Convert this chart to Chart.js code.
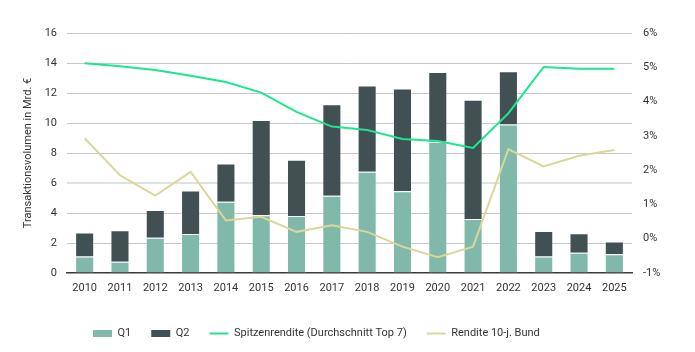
<!DOCTYPE html>
<html>
<head>
<meta charset="utf-8">
<script src="https://cdn.jsdelivr.net/npm/chart.js@4"></script>
<style>
  html, body { margin: 0; padding: 0; background: #fff; }
  #wrap { width: 695px; height: 352px; }
</style>
</head>
<body>
<div id="wrap"><canvas id="chart1"></canvas></div>
<script>
// data
const years = ["2010","2011","2012","2013","2014","2015","2016","2017","2018","2019","2020","2021","2022","2023","2024","2025"];
const q1 = [1.1, 0.75, 2.35, 2.6, 4.75, 3.85, 3.8, 5.15, 6.75, 5.45, 8.75, 3.6, 9.9, 1.1, 1.35, 1.25];
const q2 = [1.6, 2.1, 1.85, 2.9, 2.55, 6.35, 3.75, 6.1, 5.75, 6.85, 4.65, 7.95, 3.55, 1.7, 1.3, 0.85];
const spitzenrendite = [5.12, 5.03, 4.92, 4.75, 4.57, 4.26, 3.70, 3.27, 3.17, 2.91, 2.85, 2.65, 3.66, 5.01, 4.96, 4.96];
const bundRendite = [2.93, 1.85, 1.26, 1.95, 0.53, 0.64, 0.20, 0.39, 0.20, -0.23, -0.54, -0.23, 2.61, 2.11, 2.42, 2.59];
const legendOrder = ["Q1", "Q2", "Spitzenrendite (Durchschnitt Top 7)", "Rendite 10-j. Bund"];

const colQ1 = "#80b9aa";
const colQ2 = "#405053";
const colGreen = "#1ee68c";
const colYellow = "#dbd69c";

Chart.defaults.font.family = "Roboto, 'Liberation Sans', sans-serif";
Chart.defaults.font.size = 11;
Chart.defaults.color = "#333";

// move the legend row to where it sits in the reference
const legendShift = {
    id: "legendShift",
    afterLayout(chart) {
        chart.legend.left = 73;
    }
};

new Chart(document.getElementById("chart1").getContext("2d"), {
    type: "bar",
    data: {
        labels: years,
        datasets: [
            {
                type: "line",
                label: legendOrder[2],
                data: spitzenrendite,
                yAxisID: "y2",
                borderColor: colGreen,
                backgroundColor: colGreen,
                borderWidth: 2,
                pointRadius: 0,
                tension: 0,
                order: 0
            },
            {
                type: "line",
                label: legendOrder[3],
                data: bundRendite,
                yAxisID: "y2",
                borderColor: colYellow,
                backgroundColor: colYellow,
                borderWidth: 2,
                pointRadius: 0,
                tension: 0,
                order: 1
            },
            {
                label: legendOrder[0],
                data: q1,
                backgroundColor: colQ1,
                borderColor: "rgba(255,255,255,0.35)",
                borderWidth: 1,
                stack: "s",
                order: 2
            },
            {
                label: legendOrder[1],
                data: q2,
                backgroundColor: colQ2,
                borderColor: "rgba(255,255,255,0.35)",
                borderWidth: 1,
                stack: "s",
                order: 2
            }
        ]
    },
    options: {
        responsive: true,
        maintainAspectRatio: false,
        animation: false,
        layout: { padding: { top: 33, bottom: 3, left: 0, right: 0 } },
        datasets: {
            bar: { barPercentage: 0.54, categoryPercentage: 1 }
        },
        plugins: {
            tooltip: { enabled: false },
            legend: {
                position: "bottom",
                align: "start",
                labels: {
                    usePointStyle: true,
                    pointStyleWidth: 19,
                    boxHeight: 7,
                    padding: 20,
                    color: "#333",
                    sort: (a, b) => legendOrder.indexOf(a.text) - legendOrder.indexOf(b.text),
                    generateLabels: (chart) => {
                        return chart.data.datasets.map((ds, i) => ({
                            text: ds.label,
                            fillStyle: ds.type === "line" ? ds.borderColor : ds.backgroundColor,
                            strokeStyle: ds.type === "line" ? ds.borderColor : ds.backgroundColor,
                            lineWidth: ds.type === "line" ? 2 : 0,
                            pointStyle: ds.type === "line" ? "line" : "rect",
                            fontColor: "#333",
                            datasetIndex: i
                        }));
                    }
                }
            }
        },
        scales: {
            x: {
                stacked: true,
                grid: { display: false, drawTicks: false },
                border: { display: true, color: "#3a3a3a", width: 1.5 },
                ticks: { padding: 9, color: "#333" },
                afterFit: (scale) => { scale.height = 35; }
            },
            y: {
                stacked: true,
                position: "left",
                min: 0,
                max: 16,
                ticks: { stepSize: 2, padding: 10, color: "#333" },
                grid: {
                    drawTicks: false,
                    color: (ctx) => ctx.tick && ctx.tick.value === 6 ? "#dde2e2" : (ctx.tick && ctx.tick.value === 0 ? "rgba(0,0,0,0)" : "#c6c6c6"),
                    lineWidth: (ctx) => ctx.tick && ctx.tick.value === 6 ? 2 : 1
                },
                border: { display: false },
                title: {
                    display: true,
                    text: "Transaktionsvolumen in Mrd. €",
                    color: "#333",
                    padding: { top: 22, bottom: 0 }
                },
                afterFit: (scale) => { scale.width = 67; }
            },
            y2: {
                position: "right",
                min: -1,
                max: 6,
                ticks: {
                    stepSize: 1,
                    padding: 11,
                    color: "#333",
                    callback: (v) => v + "%"
                },
                grid: { display: false, drawTicks: false },
                border: { display: false },
                afterFit: (scale) => { scale.width = 63; }
            }
        }
    },
    plugins: [legendShift]
});
</script>
</body>
</html>
